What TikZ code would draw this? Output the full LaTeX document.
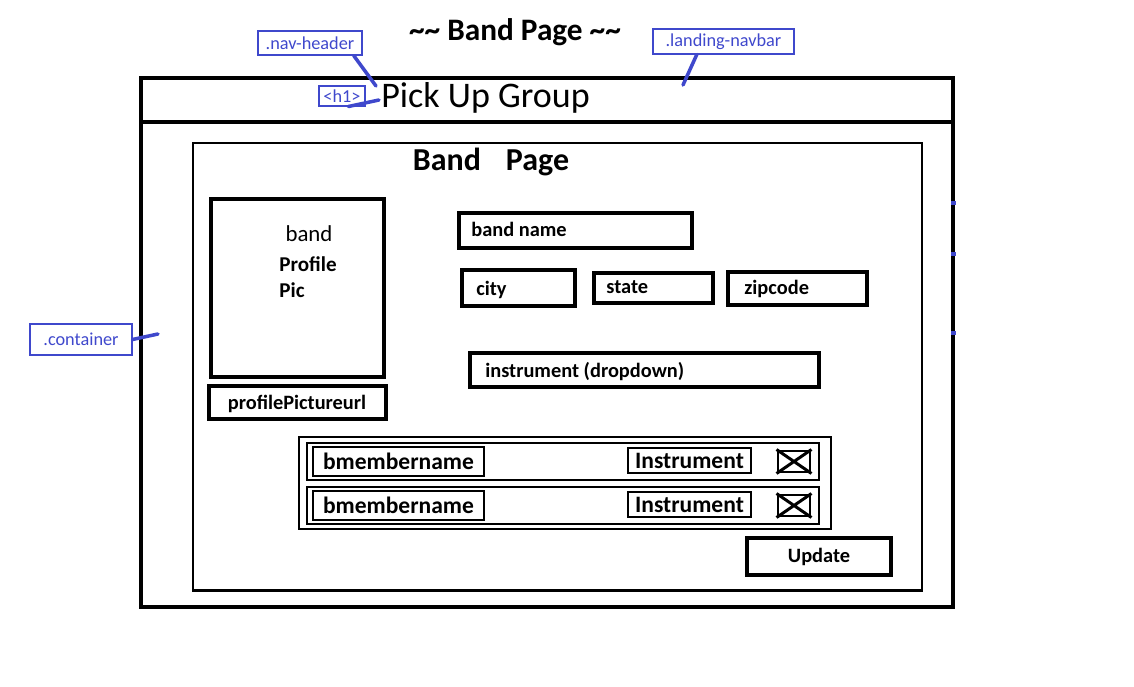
\documentclass[tikz,border=0pt]{standalone}
\usepackage{fontspec}
\setmainfont{Carlito}
\usetikzlibrary{fit}
\definecolor{notecol}{RGB}{63,72,204}
\begin{document}
\begin{tikzpicture}[x=0.02cm, y=-0.02cm,
    frame/.style={draw, line width=2.4pt, inner sep=0pt},
    field/.style={draw, line width=2.3pt, inner sep=0pt},
    slim/.style={draw, line width=1.7pt, inner sep=0pt},
    formtxt/.style={font=\fontsize{11.6}{13}\selectfont\bfseries, inner sep=0pt},
    rowtxt/.style={font=\fontsize{13.4}{15}\selectfont\bfseries, inner sep=0pt},
    note/.style={draw=notecol, line width=0.6pt, text=notecol, inner sep=0pt,
        font=\fontsize{10.4}{12}\selectfont},
    pointer/.style={notecol, line width=2pt, line cap=round}]
    \useasboundingbox (0,0) rectangle (1134,687);

    % title
    \node[font=\fontsize{17.8}{20}\selectfont\bfseries] (title) at (515,32)
        {\textasciitilde\textasciitilde{} Band Page \textasciitilde\textasciitilde};

    % page frame and navbar
    \node[frame, fit={(141,78) (953,607)}] (page) {};
    \coordinate (hdl) at (141,122);
    \coordinate (hdr) at (953,122);
    \draw[line width=2.4pt] (hdl) -- (hdr);
    \node[font=\fontsize{20.5}{24}\selectfont, anchor=west, inner sep=0pt] (brand) at (381,98) {Pick Up Group};

    % notes
    \node[note, minimum width=2.08cm, minimum height=0.48cm] (navhd) at (310,43) {.nav-header};
    \node[note, minimum width=2.82cm, minimum height=0.5cm] (landnav) at (723.5,41.5) {.landing-navbar};
    \node[note, minimum width=0.92cm, minimum height=0.4cm] (h1) at (342,96) {<h1>};
    \node[note, minimum width=2.04cm, minimum height=0.62cm] (cont) at (81,339.5) {.container};

    \coordinate (navtip) at (376,86);
    \coordinate (h1tip) at (379,100);
    \coordinate (landtip) at (683,85);
    \coordinate (conttip) at (158,334);
    \draw[pointer] (navhd.344) -- (navtip);
    \draw[pointer] (h1.301) -- (h1tip);
    \draw[pointer] (landnav.206) -- (landtip);
    \draw[pointer] (cont.east) -- (conttip);
    \foreach \y in {203,254,333} {
        \draw[notecol, line width=2.6pt] (951,\y) -- (956,\y);
    }

    % container
    \node[slim, fit={(193,143) (922,590)}] (box) {};
    \node[font=\fontsize{18.2}{20}\selectfont\bfseries] (heading) at (491,162) {Band\hspace{0.5cm}Page};

    % profile picture
    \node[field, fit={(211,199) (384,377)}] (pic) {};
    \node[font=\fontsize{13}{15}\selectfont, inner sep=0pt] (picband) at (309,234) {band};
    \node[font=\fontsize{12}{14}\selectfont\bfseries, anchor=west, inner sep=0pt] (picprof) at (279,264) {Profile};
    \node[font=\fontsize{12}{14}\selectfont\bfseries, anchor=west, inner sep=0pt] (picpic) at (279,290) {Pic};
    \node[field, fit={(209,386) (386,419)}] (urlbox) {};
    \node[formtxt] (url) at (297,404) {profilePictureurl};

    % form fields
    \node[field, fit={(459,213) (692,248)}] (namebox) {};
    \node[formtxt, anchor=west] (name) at (471,229) {band name};
    \node[field, fit={(462,270) (575,306)}] (citybox) {};
    \node[formtxt, anchor=west] (city) at (476,290) {city};
    \node[field, fit={(594,273) (713,303)}] (statebox) {};
    \node[formtxt, anchor=west] (state) at (606,287) {state};
    \node[field, fit={(728,272) (867,305)}] (zipbox) {};
    \node[formtxt, anchor=west] (zip) at (744,289) {zipcode};
    \node[field, fit={(470,353) (819,387)}] (instbox) {};
    \node[formtxt, anchor=west] (inst) at (485,372) {instrument (dropdown)};

    % band members
    \node[draw, line width=1.3pt, inner sep=0pt, fit={(299,437) (831,529)}] (members) {};
    \foreach \i/\dy in {1/0, 2/44} {
        \node[slim, fit={(307,443+\dy) (819,480+\dy)}] (row\i) {};
        \node[slim, fit={(313,447+\dy) (484,476+\dy)}] (mname\i) {};
        \node[rowtxt] at (mname\i) {bmembername};
        \node[slim, fit={(628,448+\dy) (751,473+\dy)}] (minst\i) {};
        \node[rowtxt] at (minst\i) {Instrument};
        \node[slim, fit={(778,451+\dy) (810,472+\dy)}] (mdel\i) {};
        \draw[line width=1.7pt] (mdel\i.north west) -- (mdel\i.south east)
            (mdel\i.south west) -- (mdel\i.north east);
    }

    % submit
    \node[field, fit={(747,538) (891,575)}] (updbox) {};
    \node[formtxt] (upd) at (updbox) {Update};
\end{tikzpicture}
\end{document}
